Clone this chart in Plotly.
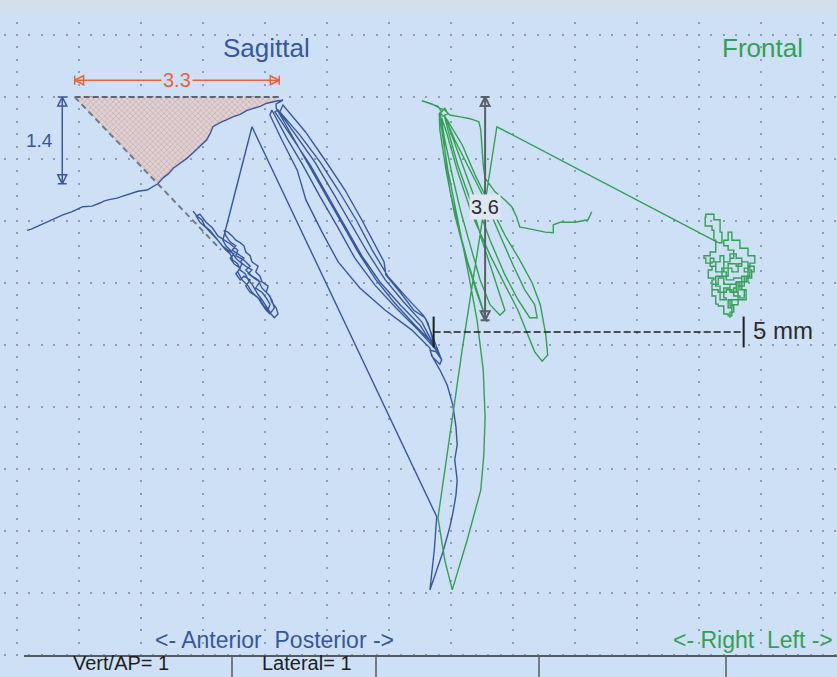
import plotly.graph_objects as go

# ---------------- data (mm; x to the right, y upward, origin at a grid node) ----------------
# Sagittal (AP) trace, in drawing order
sag_cluster_x = [2.84, 2.90, 2.98, 3.03, 3.11, 3.18, 3.24, 3.31, 3.37, 3.44, 3.48, 3.56, 3.60, 3.68, 3.73, 3.79,
                 3.84, 3.89, 3.95, 4.00, 4.05, 4.10, 4.15,
                 4.21, 4.18, 4.11, 4.08, 4.02, 4.05, 3.95, 3.92, 3.85, 3.89, 3.79, 3.76, 3.69, 3.66, 3.60, 3.53,
                 3.47, 3.40, 3.34,
                 3.37, 3.44, 3.53, 3.47, 3.56, 3.66, 3.60, 3.69, 3.79, 3.73, 3.82, 3.92, 3.85, 3.95, 4.02, 4.08,
                 4.05, 3.98, 3.92, 3.85,
                 3.76, 3.69, 3.76, 3.66, 3.60, 3.53, 3.60, 3.50, 3.44, 3.50, 3.40, 3.31, 3.24, 3.15, 3.05, 2.95,
                 2.89, 2.95, 3.05, 3.15, 3.24,
                 3.44, 3.56, 3.53, 3.66, 3.76, 3.69, 3.79, 3.89, 3.95, 4.05, 4.11, 4.15, 4.08, 4.02, 3.95, 3.89,
                 3.79, 3.73, 3.63, 3.56, 3.63, 3.53, 3.44, 3.37, 3.32]
sag_cluster_y = [-1.84, -1.92, -1.98, -2.08, -2.15, -2.23, -2.31, -2.40, -2.47, -2.53, -2.63, -2.69, -2.79, -2.85,
                 -2.95, -3.02, -3.11, -3.19, -3.27, -3.35, -3.42, -3.50, -3.56,
                 -3.50, -3.40, -3.31, -3.21, -3.15, -3.05, -2.98, -2.89, -2.82, -2.73, -2.66, -2.56, -2.50, -2.40,
                 -2.35, -2.31, -2.24, -2.18, -2.15,
                 -2.24, -2.34, -2.40, -2.47, -2.53, -2.60, -2.66, -2.73, -2.79, -2.85, -2.92, -2.98, -3.08, -3.15,
                 -3.24, -3.34, -3.44, -3.37, -3.27, -3.21,
                 -3.15, -3.05, -2.95, -2.89, -2.95, -2.85, -2.76, -2.69, -2.60, -2.53, -2.47, -2.40, -2.31, -2.21,
                 -2.11, -2.02, -1.92, -1.89, -2.02, -2.11, -2.24,
                 -2.37, -2.47, -2.56, -2.63, -2.73, -2.79, -2.89, -2.95, -3.08, -3.18, -3.27, -3.40, -3.50, -3.44,
                 -3.34, -3.24, -3.15, -3.05, -2.95, -2.82, -2.69, -2.60, -2.47, -2.40, -2.31]
sag_jump_x = [3.79, 6.77]
sag_jump_y = [-0.48, -6.77]
sag_bottom_x = [6.73, 6.66, 6.76, 6.87, 6.98, 7.03, 7.08, 7.10, 7.06, 7.10, 7.08, 7.03, 6.94, 6.82, 6.71, 6.66,
                6.76, 6.85, 6.82, 6.69]
sag_bottom_y = [-7.31, -7.95, -7.66, -7.34, -6.94, -6.71, -6.42, -6.18, -5.85, -5.61, -5.32, -4.97, -4.65, -4.40,
                -4.21, -4.08, -4.11, -4.24, -4.31, -4.18]
sag_bundle_x = [6.66, 6.37, 5.94, 5.53, 5.18, 4.92, 4.66, 4.52, 4.27, 4.08,
                4.11, 4.35, 4.61, 4.89, 5.18, 5.45, 5.77, 6.11, 6.47, 6.79,
                6.82, 6.50, 6.18, 5.85, 5.56, 5.29, 5.00, 4.73, 4.44, 4.16,
                4.21, 4.50, 4.81, 5.10, 5.37, 5.65, 5.94, 6.24, 6.53, 6.85,
                6.60, 6.56, 6.29, 5.98, 5.73, 5.47, 5.18, 4.89, 4.56, 4.24,
                4.29, 4.65, 4.97, 5.29, 5.56, 5.82, 5.92, 5.95, 6.18, 6.40, 6.58, 6.63,
                6.73, 6.40, 6.08, 5.79, 5.50, 5.23, 4.94, 4.66, 4.40, 4.18, 4.18]
sag_bundle_y = [-4.05, -3.76, -3.44, -3.08, -2.66, -2.18, -1.66, -1.18, -0.69, -0.29,
                -0.21, -0.66, -1.10, -1.61, -2.11, -2.60, -3.03, -3.40, -3.76, -4.11,
                -4.18, -3.68, -3.35, -2.98, -2.56, -2.08, -1.58, -1.10, -0.66, -0.24,
                -0.21, -0.63, -1.06, -1.55, -2.02, -2.50, -2.95, -3.31, -3.63, -4.24,
                -3.60, -3.53, -3.24, -2.89, -2.47, -1.98, -1.50, -1.05, -0.61, -0.24,
                -0.13, -0.56, -1.02, -1.50, -1.98, -2.47, -2.66, -2.87, -3.15, -3.44, -3.56, -3.65,
                -4.00, -3.66, -3.31, -2.95, -2.50, -2.02, -1.50, -1.02, -0.56, -0.18, -0.11]
sag_edge_x = [4.29, 4.21, 4.12, 4.03, 3.92, 3.81, 3.70, 3.60, 3.48, 3.38, 3.30, 3.16, 3.12, 3.06, 2.98, 2.92,
              2.84, 2.74, 2.65, 2.52, 2.44, 2.36, 2.27]
sag_edge_y = [-0.05, -0.06, -0.08, -0.10, -0.15, -0.18, -0.22, -0.28, -0.32, -0.37, -0.40, -0.48, -0.58, -0.69,
              -0.77, -0.82, -0.90, -0.99, -1.05, -1.15, -1.24, -1.30, -1.40]
sag_tail_x = [2.10, 1.95, 1.82, 1.61, 1.47, 1.40, 1.34, 1.21, 1.06, 0.89, 0.74, 0.53, 0.32, 0.23, 0.16]
sag_tail_y = [-1.50, -1.52, -1.56, -1.63, -1.66, -1.68, -1.71, -1.76, -1.77, -1.85, -1.90, -2.00, -2.10, -2.13, -2.15]

# Frontal (lateral) trace, in drawing order
fro_start_x = [9.27, 9.21, 9.00, 8.76, 8.65, 8.65, 8.52, 8.39, 8.19, 8.11, 8.06, 7.98, 7.87, 7.71, 7.63, 7.55,
               7.52, 7.50, 7.48, 7.45, 7.31, 7.15, 6.98, 6.90, 6.82, 6.69, 6.53, 6.66, 6.79, 6.85, 6.90, 6.95,
               6.87, 6.82]
fro_start_y = [-1.85, -1.98, -2.02, -2.02, -2.06, -2.19, -2.18, -2.15, -2.11, -2.10, -1.94, -1.77, -1.66, -1.53,
               -1.42, -1.31, -1.10, -0.85, -0.53, -0.40, -0.35, -0.32, -0.29, -0.21, -0.18, -0.11, -0.06, -0.10,
               -0.15, -0.24, -0.18, -0.27, -0.31, -0.24]
fro_bundle_x = [6.90, 7.02, 7.15, 7.31, 7.47, 7.63, 7.79, 7.87,
                7.71, 7.50, 7.31, 7.11, 6.95, 6.89,
                7.06, 7.31, 7.55, 7.79, 8.00, 8.19, 8.35, 8.39, 8.27,
                8.08, 7.87, 7.63, 7.39, 7.18, 6.98, 6.92,
                7.18, 7.39, 7.63, 7.87, 8.11, 8.31, 8.44, 8.53, 8.56, 8.47, 8.35,
                8.24, 8.08, 7.87, 7.63, 7.34, 7.10, 6.94, 6.85,
                6.90, 6.98, 7.11, 7.27, 7.44, 7.55, 7.58,
                7.40, 7.23, 7.06, 6.92, 6.82, 6.81]
fro_bundle_y = [-0.69, -1.26, -1.82, -2.39, -2.95, -3.35, -3.52, -3.44,
                -2.95, -2.31, -1.66, -1.10, -0.53, -0.29,
                -0.69, -1.18, -1.66, -2.23, -2.71, -3.11, -3.35, -3.56, -3.56,
                -3.27, -2.87, -2.31, -1.66, -1.10, -0.53, -0.34,
                -0.77, -1.26, -1.74, -2.23, -2.63, -3.00, -3.35, -3.84, -4.16, -4.26, -4.11,
                -3.84, -3.44, -3.03, -2.55, -1.90, -1.18, -0.61, -0.34,
                -0.85, -1.50, -2.06, -2.66, -3.19, -3.56, -3.63,
                -3.11, -2.55, -1.90, -1.18, -0.53, -0.26]
fro_v_x = [6.95, 7.11, 7.27, 7.42, 7.52, 7.55, 7.53, 7.48, 7.26, 7.02, 6.90, 6.79, 7.18, 7.74]
fro_v_y = [-1.18, -1.98, -2.79, -3.60, -4.40, -5.16, -5.77, -6.34, -7.15, -7.95, -7.47, -6.79, -4.08, -0.48]
fro_cluster_x = [11.31, 11.37, 11.34, 11.24, 11.11, 11.10, 11.21, 11.24, 11.27, 11.18, 11.08, 11.11, 11.21, 11.27,
                 11.21, 11.15, 11.24, 11.21, 11.31, 11.34, 11.44, 11.40, 11.50, 11.60, 11.56, 11.66, 11.73, 11.66,
                 11.76, 11.85, 11.79, 11.69, 11.63, 11.53, 11.47, 11.37, 11.40, 11.50, 11.56, 11.47, 11.40, 11.47,
                 11.53, 11.66, 11.79, 11.90, 11.82, 11.73, 11.79, 11.69, 11.76, 11.63, 11.53, 11.47, 11.53, 11.47,
                 11.40, 11.31, 11.27, 11.21, 11.31, 11.40,
                 11.50, 11.60, 11.69, 11.82, 11.89, 11.79, 11.73, 11.63, 11.53, 11.44, 11.34, 11.27, 11.37, 11.47,
                 11.60, 11.69, 11.60, 11.50, 11.40, 11.34, 11.24, 11.18, 11.27, 11.44, 11.56, 11.69, 11.63, 11.50,
                 11.56, 11.50]
fro_cluster_y = [-2.35, -2.18, -1.98, -1.89, -1.94, -2.08, -2.15, -2.31, -2.50, -2.56, -2.60, -2.68, -2.66, -2.73,
                 -2.79, -2.92, -2.95, -3.11, -3.15, -3.27, -3.24, -3.08, -3.02, -3.08, -3.21, -3.24, -3.11, -2.98,
                 -2.92, -2.79, -2.66, -2.69, -2.82, -2.76, -2.89, -2.82, -2.66, -2.60, -2.47, -2.40, -2.31, -2.18,
                 -2.31, -2.44, -2.56, -2.68, -2.76, -2.82, -2.98, -3.11, -3.27, -3.35, -3.27, -3.40, -3.53, -3.50,
                 -3.37, -3.34, -3.21, -3.02, -2.92, -3.02,
                 -3.15, -2.98, -2.89, -2.82, -2.73, -2.89, -3.05, -3.15, -3.11, -3.15, -3.05, -2.89, -2.76, -2.69,
                 -2.73, -2.60, -2.53, -2.66, -2.56, -2.66, -2.60, -2.73, -2.82, -2.95, -2.92, -2.98, -3.27, -3.37,
                 -3.47, -3.56]

# measurements (mm)
ap_span = 3.3          # sagittal AP excursion
vert_span = 1.4        # sagittal vertical drop
front_span = 3.6       # frontal vertical range
scale_len = 5          # scale bar
sag_top_right = 4.23
ap_arrow_y = 0.27
vert_arrow_x = 0.73
front_arrow_x = 7.55
scale_x0 = 6.72
scale_y = -3.79

labels_table = ["Vert/AP= 1", "Lateral= 1"]

# ---------------- style ----------------
BG = "#cde0f6"
BAND = "#d4dfee"
GRID = "#8e9cb6"
BLUE = "#38579f"
GREEN = "#33a055"
RED = "#e8643c"
FONT = "Liberation Sans, Arial, sans-serif"
W, H = 837, 677
PX = 62.0  # pixels per mm
LW = 1.4

fig = go.Figure()

# triangle (hatched)
tri_left = sag_top_right - ap_span
tri_x = [tri_left, sag_top_right] + sag_edge_x[1:] + [tri_left]
tri_y = [0, 0] + sag_edge_y[1:] + [0]
fig.add_trace(go.Scatter(x=tri_x, y=tri_y, mode="lines", fill="toself", fillcolor="#dccaca",
                         fillpattern=dict(shape="x", fgcolor="#b39494", bgcolor="#e0d0d2", size=4, solidity=0.35),
                         line=dict(width=0), hoverinfo="skip"))
# dashed guides
fig.add_trace(go.Scatter(x=[tri_left, sag_top_right], y=[0, 0], mode="lines",
                         line=dict(color="#5d646c", width=2, dash="6px,3px"), hoverinfo="skip"))
vx, vy = sag_edge_x[-1], sag_edge_y[-1]
ext = 1.76
fig.add_trace(go.Scatter(x=[tri_left, tri_left + (vx - tri_left) * ext], y=[0, vy * ext], mode="lines",
                         line=dict(color="#747b84", width=2, dash="6px,4px"), hoverinfo="skip"))

# sagittal trace
sx = sag_cluster_x + sag_jump_x + sag_bottom_x + sag_bundle_x + sag_edge_x + sag_tail_x
sy = sag_cluster_y + sag_jump_y + sag_bottom_y + sag_bundle_y + sag_edge_y + sag_tail_y
fig.add_trace(go.Scatter(x=sx, y=sy, mode="lines", line=dict(color=BLUE, width=LW), hoverinfo="skip"))

# frontal trace
fx = fro_start_x + fro_bundle_x + fro_v_x + [fro_cluster_x[0]]
fy = fro_start_y + fro_bundle_y + fro_v_y + [fro_cluster_y[0]]
fig.add_trace(go.Scatter(x=fx, y=fy, mode="lines", line=dict(color=GREEN, width=LW), hoverinfo="skip"))
fig.add_trace(go.Scatter(x=fro_cluster_x, y=fro_cluster_y, mode="lines",
                         line=dict(color=GREEN, width=LW, shape="hv"), hoverinfo="skip"))

# measurement arrows
def arrow(xs, ys, syms, color, width=1.5):
    fig.add_trace(go.Scatter(x=xs, y=ys, mode="lines+markers", line=dict(color=color, width=width),
                             marker=dict(symbol=syms, size=9, color=color, line=dict(color=color, width=width)),
                             hoverinfo="skip"))

arrow([tri_left, sag_top_right], [ap_arrow_y, ap_arrow_y], ["arrow-bar-left-open", "arrow-bar-right-open"], RED)
arrow([vert_arrow_x, vert_arrow_x], [0, -vert_span], ["arrow-bar-up-open", "arrow-bar-down-open"], BLUE)
arrow([front_arrow_x, front_arrow_x], [0, -front_span], ["arrow-bar-up-open", "arrow-bar-down-open"], "#5a6068", 2)

# scale bar
fig.add_trace(go.Scatter(x=[scale_x0, scale_x0 + scale_len], y=[scale_y, scale_y], mode="lines",
                         line=dict(color="#1e1e1e", width=1.6, dash="7px,3px"), hoverinfo="skip"))
fig.add_trace(go.Scatter(x=[scale_x0, scale_x0 + scale_len], y=[scale_y, scale_y], mode="markers",
                         marker=dict(symbol="line-ns", size=22, line=dict(color="#1e1e1e", width=2)),
                         hoverinfo="skip"))

ann = []
def txt(x, y, s, color, size, xanchor="center", bg=None, xref="x", yref="y", yanchor="middle"):
    d = dict(x=x, y=y, xref=xref, yref=yref, text=s, showarrow=False, xanchor=xanchor, yanchor=yanchor,
             font=dict(family=FONT, size=size, color=color))
    if bg:
        d.update(bgcolor=bg, borderpad=1)
    ann.append(d)

txt(4.02, 0.79, "Sagittal", BLUE, 26)
txt(12.03, 0.79, "Frontal", GREEN, 26)
txt((tri_left + sag_top_right) / 2, ap_arrow_y, f"{ap_span}", RED, 20, bg=BG)
txt(0.37, -vert_span / 2, f"{vert_span}", BLUE, 19)
txt(front_arrow_x, -1.77, f"{front_span}", "#2b2b2b", 20, bg="#dfe7f2")
txt(scale_x0 + scale_len + 0.12, scale_y + 0.03, f"{scale_len} mm", "#2b2b2b", 24, xanchor="left")
txt(4.15, -8.76, "&lt;- Anterior&nbsp; Posterior -&gt;", BLUE, 23)
txt(13.2, -8.76, "&lt;- Right&nbsp; Left -&gt;", GREEN, 23, xanchor="right")
txt(121 / W, 1 - 676 / H, labels_table[0], "#1e1e1e", 20, xref="paper", yref="paper", yanchor="bottom")
txt(307 / W, 1 - 676 / H, labels_table[1], "#1e1e1e", 20, xref="paper", yref="paper", yanchor="bottom")

shapes = [
    dict(type="rect", xref="paper", yref="paper", x0=0, x1=1, y0=1 - 13 / H, y1=1, fillcolor=BAND,
         line=dict(width=0), layer="above"),
    dict(type="rect", xref="paper", yref="paper", x0=0, x1=1, y0=0, y1=1 - 656 / H, fillcolor=BG,
         line=dict(width=0), layer="above"),
    dict(type="line", xref="paper", yref="paper", x0=24 / W, x1=1, y0=1 - 656 / H, y1=1 - 656 / H,
         line=dict(color="#555b62", width=2), layer="above"),
]
for sx_ in [232, 376, 539, 726]:
    shapes.append(dict(type="line", xref="paper", yref="paper", x0=sx_ / W, x1=sx_ / W, y0=0, y1=1 - 656 / H,
                       line=dict(color="#555b62", width=1.5), layer="above"))

fig.update_layout(
    width=W, height=H, autosize=False, margin=dict(l=0, r=0, t=0, b=0, pad=0),
    paper_bgcolor=BG, plot_bgcolor=BG, showlegend=False, hovermode=False,
    annotations=ann, shapes=shapes,
    xaxis=dict(range=[-17 / PX, (W - 17) / PX], showgrid=True, tick0=0, dtick=1, gridcolor=GRID, gridwidth=2,
               griddash="0px,9.2px,2px,1.2px", zeroline=False, showticklabels=False, ticks="", showline=False,
               fixedrange=True),
    yaxis=dict(range=[(97 - H) / PX, 97 / PX], showgrid=True, tick0=0, dtick=1, gridcolor=GRID, gridwidth=2,
               griddash="0px,3.6px,2px,6.8px", zeroline=False, showticklabels=False, ticks="", showline=False,
               fixedrange=True),
)

fig.write_html("out.html")
